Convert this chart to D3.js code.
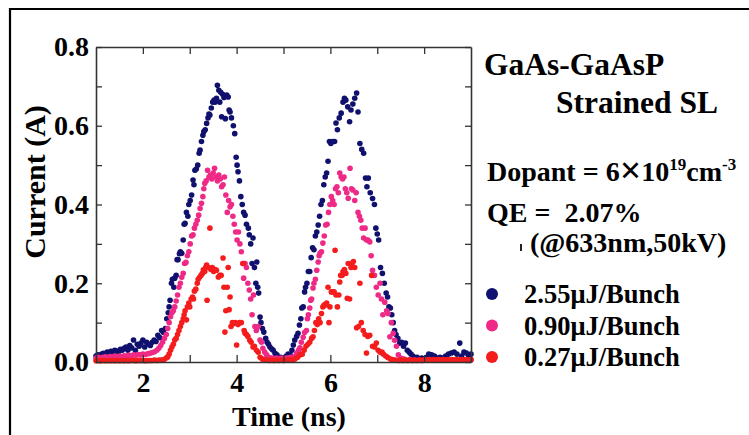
<!DOCTYPE html>
<html><head><meta charset="utf-8">
<script src="https://cdn.jsdelivr.net/npm/d3@7"></script>
<style>html,body{margin:0;padding:0;background:#fff;}svg{display:block;}</style>
</head><body>
<svg id="chart" width="749" height="435"></svg>
<script>
// ---- data (time in ns, current in A) ----
const xTickValues = [2, 3, 4, 5, 6, 7, 8];
const xTickLabels = ["2", "", "4", "", "6", "", "8"];
const yTickValues = [0, 0.1, 0.2, 0.3, 0.4, 0.5, 0.6, 0.7, 0.8];
const yTickLabels = ["0.0", "", "0.2", "", "0.4", "", "0.6", "", "0.8"];
const seriesNames = ["2.55\u03bcJ/Bunch", "0.90\u03bcJ/Bunch", "0.27\u03bcJ/Bunch"];
const seriesColors = ["#10106e", "#ee2a86", "#f41c1c"];

const blue255 = [
[1.00,.015],[1.04,.018],[1.08,.013],[1.12,.02],[1.16,.022],[1.20,.018],[1.24,.025],[1.28,.022],[1.32,.027],[1.36,.024],
[1.40,.03],[1.44,.028],[1.48,.026],[1.52,.032],[1.56,.03],[1.60,.035],[1.64,.038],[1.68,.03],[1.72,.042],[1.76,.036],
[1.80,.056],[1.84,.03],[1.88,.045],[1.92,.04],[1.96,.048],[2.00,.056],[2.04,.038],[2.08,.05],[2.12,.045],[2.16,.042],
[2.20,.05],[2.24,.056],[2.28,.052],[2.32,.068],[2.36,.062],[2.40,.08],[2.44,.075],[2.48,.085],
[2.51,.11],[2.54,.125],[2.56,.14],[2.58,.157],[2.61,.2],[2.63,.21],[2.66,.19],[2.68,.213],[2.71,.22],[2.73,.26],
[2.75,.26],[2.78,.275],[2.80,.28],[2.83,.276],[2.86,.31],[2.88,.35],[2.90,.352],[2.93,.38],[2.96,.37],[2.98,.40],
[3.01,.41],[3.04,.424],[3.07,.462],[3.09,.45],[3.11,.487],[3.14,.49],[3.17,.50],[3.20,.53],[3.22,.538],[3.25,.56],
[3.28,.576],[3.30,.585],[3.33,.59],[3.36,.606],[3.39,.62],[3.41,.63],[3.43,.627],[3.46,.645],[3.49,.66],[3.52,.665],
[3.54,.66],[3.57,.67],[3.59,.703],[3.62,.69],[3.64,.66],[3.66,.685],[3.68,.623],[3.70,.68],[3.73,.672],[3.76,.618],
[3.79,.678],[3.82,.673],[3.84,.64],[3.86,.635],[3.89,.62],[3.93,.60],[3.96,.58],[3.99,.52],[4.01,.50],[4.03,.483],
[4.06,.46],[4.09,.42],[4.12,.40],[4.15,.38],[4.18,.373],[4.21,.35],[4.25,.34],[4.27,.323],[4.30,.30],[4.33,.25],
[4.35,.315],[4.38,.24],[4.41,.20],[4.43,.254],[4.45,.19],[4.47,.175],[4.50,.114],[4.52,.10],[4.55,.085],[4.58,.076],
[4.62,.06],[4.65,.05],[4.68,.045],[4.71,.038],[4.75,.033],[4.78,.03],[4.82,.022],[4.86,.018],[4.90,.01],[4.94,.012],
[4.98,.008],[5.02,.01],[5.06,.015],[5.10,.02],[5.14,.018],[5.18,.03],[5.21,.043],
[5.24,.056],[5.28,.065],[5.31,.073],[5.34,.094],[5.37,.11],[5.39,.137],[5.42,.14],[5.45,.178],[5.47,.19],[5.50,.2],
[5.53,.23],[5.56,.23],[5.59,.265],[5.62,.29],[5.65,.285],[5.68,.32],[5.71,.33],[5.74,.348],[5.77,.37],[5.80,.40],
[5.83,.41],[5.86,.45],[5.89,.47],[5.92,.48],[5.95,.51],[5.98,.56],[6.01,.555],[6.05,.56],[6.09,.56],[6.12,.607],
[6.15,.59],[6.19,.62],[6.23,.632],[6.27,.66],[6.30,.67],[6.33,.665],[6.37,.648],[6.41,.61],[6.44,.64],[6.48,.655],
[6.52,.67],[6.56,.683],[6.59,.635],[6.63,.555],[6.67,.54],[6.71,.53],[6.75,.467],[6.78,.445],[6.81,.467],[6.85,.43],
[6.90,.415],[6.94,.40],[6.97,.34],[7.00,.325],[7.03,.31],[7.07,.24],[7.11,.225],[7.15,.2],[7.19,.175],[7.22,.165],
[7.25,.14],[7.28,.137],[7.31,.12],[7.34,.1],[7.37,.08],[7.40,.07],[7.44,.06],[7.48,.048],[7.52,.05],[7.56,.04],
[7.60,.048],[7.64,.03],[7.68,.025],[7.72,.02],[7.76,.015],[7.80,.01],[7.85,.012],[7.90,.008],[7.95,.01],[8.00,.008],
[8.05,.012],[8.10,.02],[8.16,.018],[8.22,.015],[8.28,.01],[8.34,.012],[8.40,.01],[8.46,.015],[8.52,.02],[8.58,.023],
[8.64,.025],[8.70,.02],[8.76,.048],[8.80,.015],[8.85,.025],[8.90,.023],[8.95,.015],[9.00,.02]
];

const pink090 = [
[1.00,.01],[1.05,.012],[1.10,.01],[1.15,.012],[1.20,.013],[1.25,.011],[1.30,.014],[1.35,.012],[1.40,.015],[1.45,.013],
[1.50,.015],[1.55,.014],[1.60,.016],[1.65,.015],[1.70,.017],[1.75,.016],[1.80,.018],[1.85,.017],[1.90,.019],[1.95,.018],
[2.00,.02],[2.05,.019],[2.10,.021],[2.15,.022],[2.20,.024],[2.25,.026],[2.30,.03],[2.34,.035],[2.38,.042],[2.42,.05],
[2.46,.06],[2.50,.07],[2.53,.085],[2.56,.1],[2.59,.115],[2.62,.125],[2.65,.13],[2.68,.14],[2.71,.155],[2.74,.17],
[2.77,.19],[2.80,.2],[2.83,.215],[2.86,.225],[2.89,.25],[2.92,.253],[2.95,.27],[2.98,.28],[3.01,.3],[3.04,.32],
[3.07,.323],[3.10,.34],[3.13,.35],[3.16,.36],[3.19,.373],[3.22,.39],[3.25,.403],[3.28,.42],[3.30,.44],[3.32,.454],
[3.35,.46],[3.38,.487],[3.41,.47],[3.44,.475],[3.47,.465],[3.50,.48],[3.53,.492],[3.56,.47],[3.59,.46],[3.62,.475],
[3.65,.465],[3.68,.445],[3.71,.45],[3.74,.47],[3.77,.424],[3.80,.38],[3.83,.41],[3.86,.394],[3.89,.40],[3.92,.37],
[3.95,.35],[3.98,.33],[4.01,.31],[4.04,.33],[4.07,.30],[4.10,.28],[4.13,.25],[4.15,.213],[4.18,.25],[4.21,.24],
[4.24,.2],[4.27,.183],[4.30,.16],[4.33,.12],[4.36,.17],[4.39,.09],[4.42,.08],[4.46,.09],[4.50,.056],[4.53,.05],
[4.56,.035],[4.60,.025],[4.64,.018],[4.68,.012],[4.72,.01],[4.76,.01],[4.80,.008],[4.85,.01],[4.90,.008],[4.95,.01],
[5.00,.009],[5.05,.01],[5.10,.01],[5.15,.012],[5.20,.012],[5.24,.013],[5.28,.022],[5.32,.03],[5.35,.036],[5.38,.05],
[5.42,.063],[5.45,.075],[5.49,.08],[5.51,.11],[5.53,.12],[5.56,.137],[5.58,.157],[5.60,.16],[5.63,.188],[5.65,.2],
[5.68,.21],[5.71,.233],[5.74,.254],[5.76,.27],[5.78,.276],[5.81,.28],[5.84,.302],[5.87,.32],[5.90,.348],[5.93,.35],
[5.96,.38],[5.99,.40],[6.02,.42],[6.05,.41],[6.08,.40],[6.11,.44],[6.14,.445],[6.17,.43],[6.20,.48],[6.23,.47],
[6.26,.465],[6.29,.47],[6.32,.44],[6.35,.43],[6.38,.416],[6.42,.492],[6.45,.44],[6.48,.437],[6.52,.41],[6.55,.43],
[6.59,.38],[6.62,.37],[6.65,.36],[6.68,.34],[6.71,.315],[6.74,.34],[6.77,.31],[6.80,.31],[6.84,.305],[6.87,.27],
[6.90,.233],[6.94,.22],[6.98,.19],[7.02,.17],[7.06,.2],[7.09,.16],[7.12,.12],[7.16,.152],[7.20,.13],[7.23,.123],
[7.27,.064],[7.30,.1],[7.34,.073],[7.37,.055],[7.41,.04],[7.45,.018],[7.50,.01],[7.55,.008],[7.60,.006],[7.70,.006],
[7.80,.005],[7.90,.005],[8.00,.005],[8.10,.005],[8.20,.005],[8.30,.005],[8.40,.005],[8.50,.005],[8.60,.005],[8.70,.005],
[8.80,.005],[8.90,.005],[9.00,.005]
];

const red027 = [
[1.00,.003],[1.05,.004],[1.10,.003],[1.15,.004],[1.20,.003],[1.25,.004],[1.30,.003],[1.35,.004],[1.40,.003],[1.45,.004],
[1.50,.003],[1.55,.004],[1.60,.003],[1.65,.004],[1.70,.003],[1.75,.004],[1.80,.004],[1.85,.003],[1.90,.004],[1.95,.004],
[2.00,.004],[2.05,.003],[2.10,.004],[2.15,.004],[2.20,.004],[2.25,.005],[2.30,.004],[2.35,.005],[2.40,.005],
[2.45,.006],[2.50,.01],[2.53,.013],[2.56,.02],[2.59,.03],[2.62,.038],[2.65,.045],[2.68,.056],[2.71,.06],[2.74,.07],
[2.77,.08],[2.80,.09],[2.83,.1],[2.86,.11],[2.88,.12],[2.90,.13],[2.93,.107],[2.95,.14],[2.98,.15],[3.00,.14],
[3.03,.16],[3.06,.165],[3.08,.16],[3.10,.18],[3.13,.185],[3.16,.2],[3.18,.21],[3.21,.215],[3.24,.22],[3.27,.225],
[3.29,.234],[3.32,.23],[3.34,.24],[3.36,.246],[3.37,.157],[3.40,.24],[3.43,.34],[3.45,.235],[3.48,.24],[3.51,.23],
[3.54,.235],[3.57,.233],[3.61,.216],[3.64,.22],[3.67,.22],[3.71,.264],[3.73,.19],[3.75,.076],[3.77,.13],[3.80,.19],
[3.82,.24],[3.84,.133],[3.86,.165],[3.88,.09],[3.91,.1],[3.94,.098],[3.97,.1],[4.00,.043],[4.03,.095],[4.06,.1],
[4.10,.1],[4.14,.25],[4.16,.08],[4.18,.073],[4.21,.07],[4.24,.065],[4.28,.055],[4.31,.05],[4.35,.038],[4.38,.04],
[4.42,.03],[4.46,.025],[4.50,.012],[4.54,.008],[4.58,.006],[4.65,.005],[4.70,.004],[4.75,.005],[4.80,.004],[4.85,.005],
[4.90,.004],[4.95,.005],[5.00,.004],[5.05,.005],[5.10,.005],[5.15,.006],[5.20,.006],[5.25,.008],[5.30,.012],[5.35,.018],
[5.40,.02],[5.44,.03],[5.48,.04],[5.52,.045],[5.56,.05],[5.60,.06],[5.63,.064],[5.66,.08],[5.69,.1],[5.72,.095],
[5.75,.11],[5.78,.1],[5.81,.123],[5.84,.14],[5.87,.145],[5.90,.145],[5.92,.15],[5.95,.19],[5.97,.1],[5.99,.14],
[6.02,.178],[6.05,.178],[6.08,.178],[6.10,.284],[6.12,.17],[6.15,.14],[6.18,.17],[6.20,.203],[6.22,.22],[6.25,.22],
[6.27,.23],[6.30,.235],[6.33,.225],[6.36,.162],[6.38,.25],[6.41,.16],[6.44,.24],[6.46,.25],[6.49,.255],[6.52,.24],
[6.56,.087],[6.60,.09],[6.63,.2],[6.66,.1],[6.70,.08],[6.74,.07],[6.77,.023],[6.80,.065],[6.84,.068],[6.88,.22],
[6.90,.04],[6.94,.038],[6.98,.048],[7.02,.03],[7.06,.025],[7.10,.025],[7.13,.02],[7.18,.015],[7.22,.012],[7.27,.008],
[7.32,.006],[7.38,.005],[7.45,.004],[7.50,.005],[7.55,.004],[7.60,.005],[7.65,.004],[7.70,.005],[7.75,.004],[7.80,.005],
[7.85,.004],[7.90,.005],[7.95,.004],[8.00,.005],[8.05,.005],[8.10,.006],[8.15,.005],[8.20,.006],[8.25,.005],[8.30,.006],
[8.35,.005],[8.40,.006],[8.45,.005],[8.50,.006],[8.55,.005],[8.60,.006],[8.65,.005],[8.70,.006],[8.75,.005],[8.80,.006],
[8.85,.005],[8.90,.006],[8.95,.005],[9.00,.006]
];

const allSeries = [blue255, pink090, red027];

// ---- drawing ----
const svg = d3.select("#chart");
const serif = "'Liberation Serif','Times New Roman',serif";
const L = 96, R = 471, T = 47, B = 362;
const x = d3.scaleLinear().domain([1, 9]).range([L, R]);
const y = d3.scaleLinear().domain([0, 0.8]).range([B, T]);

svg.append("rect").attr("width", 749).attr("height", 435).attr("fill", "#fff");
// outer frame (top and left edges visible)
svg.append("path").attr("d", "M10,436 L10,9 L750,9").attr("fill", "none")
  .attr("stroke", "#000").attr("stroke-width", 2.2);

// points
const gPts = svg.append("g");
allSeries.forEach((s, i) => {
  gPts.append("g").selectAll("circle").data(s).join("circle")
    .attr("cx", d => x(d[0])).attr("cy", d => y(d[1])).attr("r", 2.8)
    .attr("fill", seriesColors[i]);
});

// axes
function styleAxis(g) {
  g.selectAll("path.domain").attr("stroke", "#333").attr("stroke-width", 1.6);
  g.selectAll(".tick line").attr("stroke", "#333").attr("stroke-width", 1.3);
  g.selectAll("text").attr("fill", "#000").attr("font-family", serif)
    .attr("font-weight", "bold").attr("font-size", 28);
}
svg.append("g").attr("transform", `translate(0,${B})`)
  .call(d3.axisBottom(x).tickValues(xTickValues).tickFormat((d, i) => xTickLabels[i])
    .tickSizeInner(-7).tickSizeOuter(0).tickPadding(10))
  .call(styleAxis);
svg.append("g").attr("transform", `translate(0,${T})`)
  .call(d3.axisTop(x).tickValues(xTickValues).tickFormat("").tickSizeInner(-7).tickSizeOuter(0))
  .call(styleAxis);
svg.append("g").attr("transform", `translate(${L},0)`)
  .call(d3.axisLeft(y).tickValues(yTickValues).tickFormat((d, i) => yTickLabels[i])
    .tickSizeInner(-6).tickSizeOuter(0).tickPadding(7))
  .call(styleAxis);
svg.append("g").attr("transform", `translate(${R},0)`)
  .call(d3.axisRight(y).tickValues(yTickValues).tickFormat("").tickSizeInner(-6).tickSizeOuter(0))
  .call(styleAxis);

// axis titles
svg.append("text").attr("x", 289).attr("y", 426).attr("text-anchor", "middle")
  .attr("font-family", serif).attr("font-weight", "bold").attr("font-size", 28).text("Time (ns)");
svg.append("text").attr("transform", "translate(45,182) rotate(-90)").attr("text-anchor", "middle")
  .attr("font-family", serif).attr("font-weight", "bold").attr("font-size", 30).text("Current (A)");

// annotations
function txt(xp, yp, size) {
  return svg.append("text").attr("x", xp).attr("y", yp).attr("font-family", serif)
    .attr("font-weight", "bold").attr("font-size", size).attr("fill", "#000");
}
txt(484, 75, 31.5).text("GaAs-GaAsP");
txt(556, 113, 31.5).text("Strained SL");
const dop = txt(487, 181, 28);
dop.append("tspan").text("Dopant = 6");
dop.append("tspan").attr("font-size", 38).attr("dy", 2).text("\u00d7");
dop.append("tspan").attr("dy", -2).text("10");
dop.append("tspan").attr("font-size", 17).attr("dy", -11).text("19");
dop.append("tspan").attr("dy", 11).text("cm");
dop.append("tspan").attr("font-size", 17).attr("dy", -11).text("-3");
txt(487, 222, 28).attr("xml:space", "preserve").text("QE =  2.07%");
txt(530, 252, 28).text("(@633nm,50kV)");
svg.append("rect").attr("x", 520).attr("y", 244).attr("width", 2).attr("height", 7).attr("fill", "#222");

// legend
seriesNames.forEach((name, i) => {
  const yy = 294 + i * 31.5;
  svg.append("circle").attr("cx", 492).attr("cy", yy).attr("r", 6).attr("fill", seriesColors[i]);
  txt(524, yy + 9, 26.5).text(name);
});
</script>
</body></html>
